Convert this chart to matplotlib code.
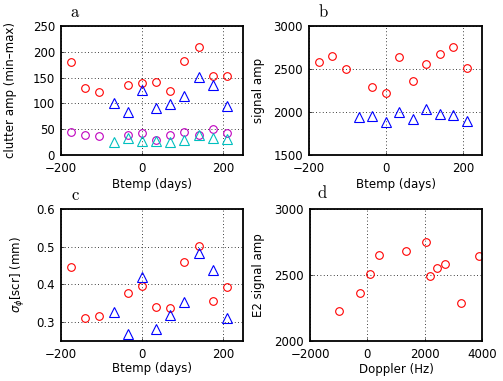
import numpy as np
import matplotlib
matplotlib.use('Agg')
import matplotlib.pyplot as plt

plt.rcParams['font.family'] = ['DejaVu Sans']
plt.rcParams['font.size'] = 8.5

# Btemp (days) for the red/magenta circles and blue/cyan triangles
btemp_c = [-175, -140, -105, -35, 0, 35, 70, 105, 140, 175, 210]
btemp_t = [-70, -35, 0, 35, 70, 105, 140, 175, 210]

# panel a: clutter amp (min-max)
clut_red = [181, 129, 123, 135, 139, 142, 125, 183, 210, 154, 154]
clut_blue = [101, 84, 126, 91, 98, 114, 151, 136, 95]
clut_mag = [44, 39, 37, 39, 42, 29, 39, 44, 39, 50, 42]
clut_cyan = [26, 33, 27, 27, 26, 30, 39, 33, 31]

# panel b: signal amp
sig_red = [2581, 2651, 2496, 2287, 2225, 2643, 2364, 2554, 2678, 2756, 2508]
sig_blue = [1946, 1953, 1888, 2000, 1922, 2035, 1977, 1965, 1899]

# panel c: sigma_phi [scr] (mm)
scr_red = [0.447, 0.312, 0.315, 0.377, 0.396, 0.341, 0.338, 0.459, 0.501, 0.357, 0.392]
scr_blue = [0.328, 0.269, 0.419, 0.282, 0.320, 0.354, 0.483, 0.439, 0.312]

# panel d: E2 signal amp vs Doppler
doppler = [-1000, -269, 105, 421, 1345, 2047, 2187, 2421, 2713, 3275, 3883]
e2_amp = [2224, 2361, 2506, 2654, 2682, 2753, 2494, 2555, 2585, 2285, 2646]

fig = plt.figure(figsize=(5.03, 3.81), dpi=100)
W, H = 503.0, 381.0

def mkax(l, r, t, b, xl, yl, xlab, ylab):
    ax = fig.add_axes([l / W, 1 - b / H, (r - l) / W, (b - t) / H])
    for s in ax.spines.values():
        s.set_linewidth(1.3)
    ax.tick_params(axis='x', direction='in', length=2, width=0.5, labelsize=8.5, pad=5)
    ax.tick_params(axis='y', direction='in', length=2, width=0.5, labelsize=8.5, pad=4.3)
    ax.grid(True, ls=(0, (1, 3)), color='k', lw=0.6)
    ax.set_xlabel(xlab)
    ax.set_ylabel(ylab)
    ax.xaxis.set_label_coords(0.5, xl)
    ax.yaxis.set_label_coords(yl, 0.5)
    return ax

circ = dict(ls='none', marker='o', ms=5.5, mfc='none', mew=0.8)
tri = dict(ls='none', marker='^', ms=6.5, mfc='none', mew=0.8)

ax = mkax(61, 243, 26, 155, -0.175, -0.242, 'Btemp (days)', 'clutter amp (min\u2013max)')
ax.plot(btemp_c, clut_red, mec='r', **circ)
ax.plot(btemp_t, clut_blue, mec='b', **tri)
ax.plot(btemp_c, clut_mag, mec='m', **circ)
ax.plot(btemp_t, clut_cyan, mec='c', **tri)
ax.set_xlim(-200, 250)
ax.set_ylim(0, 250)
ax.set_xticks([-200, 0, 200])
ax.set_yticks([0, 50, 100, 150, 200, 250])

ax = mkax(309, 482, 26, 155, -0.18, -0.254, 'Btemp (days)', 'signal amp')
ax.plot(btemp_c, sig_red, mec='r', **circ)
ax.plot(btemp_t, sig_blue, mec='b', **tri)
ax.set_xlim(-200, 250)
ax.set_ylim(1500, 3000)
ax.set_xticks([-200, 0, 200])
ax.set_yticks([1500, 2000, 2500, 3000])

ax = mkax(61, 243, 209, 341, -0.16, -0.187, 'Btemp (days)', r'$\sigma_\phi$[scr] (mm)')
ax.plot(btemp_c, scr_red, mec='r', **circ)
ax.plot(btemp_t, scr_blue, mec='b', **tri)
ax.set_xlim(-200, 250)
ax.set_ylim(0.25, 0.6)
ax.set_xticks([-200, 0, 200])
ax.set_yticks([0.3, 0.4, 0.5, 0.6])

ax = mkax(310, 482, 209, 341, -0.165, -0.262, 'Doppler (Hz)', 'E2 signal amp')
ax.plot(doppler, e2_amp, mec='r', **circ)
ax.set_xlim(-2000, 4000)
ax.set_ylim(2000, 3000)
ax.set_xticks([-2000, 0, 2000, 4000])
ax.set_yticks([2000, 2500, 3000])

for lab, x, y in [('a', 75, 12), ('b', 323, 12), ('c', 75, 195), ('d', 322, 193)]:
    fig.text(x / W, 1 - y / H, r'$\mathrm{%s}$' % lab, ha='center', va='center',
             fontsize=12, math_fontfamily='cm')

fig.savefig('out.png', dpi=100)
